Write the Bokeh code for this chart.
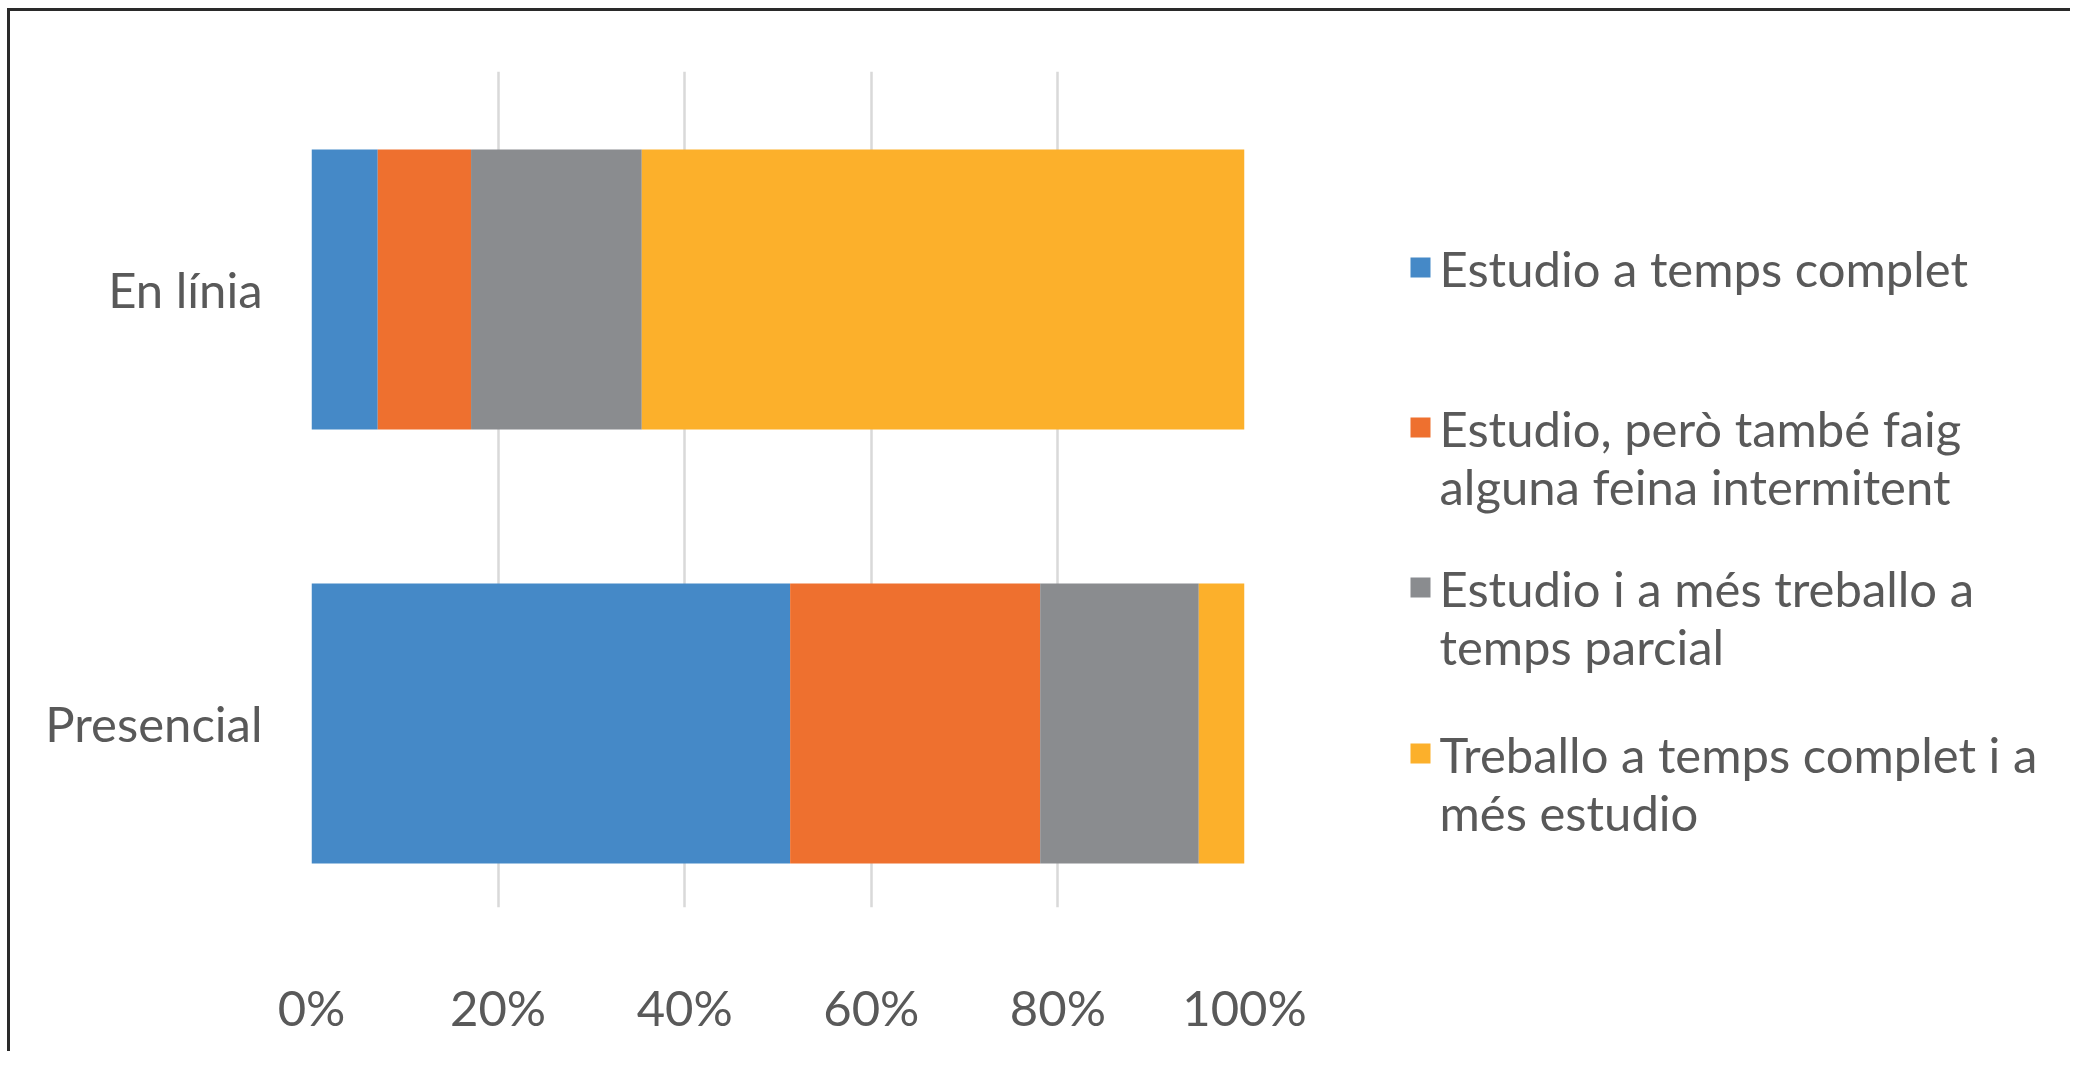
from bokeh.plotting import figure
from bokeh.layouts import row, column, Spacer
from bokeh.models import ColumnDataSource, FixedTicker, Range1d
from bokeh.embed import file_html
from bokeh.resources import INLINE
from bokeh.core.properties import value

# ---- data ----
categories = ["Presencial", "En línia"]
series_names = [
    "Estudio a temps complet",
    "Estudio, però també faig alguna feina intermitent",
    "Estudio i a més treballo a temps parcial",
    "Treballo a temps complet i a més estudio",
]
legend_lines = [
    ["Estudio a temps complet"],
    ["Estudio, però també faig", "alguna feina intermitent"],
    ["Estudio i a més treballo a", "temps parcial"],
    ["Treballo a temps complet i a", "més estudio"],
]
estudio_complet = [51.3, 7.1]
estudio_feina = [26.8, 10.0]
estudio_parcial = [17.0, 18.3]
treballo_complet = [4.9, 64.6]
x_ticks = [0, 20, 40, 60, 80, 100]
x_tick_labels = ["0%", "20%", "40%", "60%", "80%", "100%"]

colors = ["#4589C7", "#EE702F", "#8A8C8F", "#FCB02B"]
TEXT = "#595959"
FONT = "Lato"
FS = "49px"

stackers = ["s0", "s1", "s2", "s3"]
source = ColumnDataSource(dict(
    y=list(range(len(categories))),
    s0=estudio_complet, s1=estudio_feina, s2=estudio_parcial, s3=treballo_complet,
))

OX, OY = 18, 19          # content origin on the page
W1, W2, H = 1350, 710, 1040
BT, BB = 60, 144

p = figure(width=W1, height=H, output_backend="svg", toolbar_location=None,
           x_range=Range1d(0, 100), y_range=Range1d(-0.424, 1.502),
           min_border_left=301, min_border_right=116, min_border_top=BT,
           min_border_bottom=BB)
p.hbar_stack(stackers, y="y", height=0.645, fill_color=colors, line_color=None,
             source=source)

p.outline_line_color = None
p.background_fill_color = "white"
p.border_fill_color = "white"

p.xaxis.ticker = FixedTicker(ticks=x_ticks)
p.xaxis.major_label_overrides = {t: l for t, l in zip(x_ticks, x_tick_labels)}
p.yaxis.ticker = FixedTicker(ticks=list(range(len(categories))))
p.yaxis.major_label_overrides = {i: c for i, c in enumerate(categories)}
for ax in (p.xaxis, p.yaxis):
    ax.axis_line_color = None
    ax.major_tick_line_color = None
    ax.minor_tick_line_color = None
    ax.major_label_text_font = FONT
    ax.major_label_text_font_size = FS
    ax.major_label_text_color = TEXT
p.xaxis.major_label_standoff = 64
p.yaxis.major_label_standoff = 43

p.xgrid.ticker = FixedTicker(ticks=x_ticks)
p.xgrid.grid_line_color = "#d9d9d9"
p.xgrid.grid_line_width = 2.5
p.ygrid.grid_line_color = None

# ---- legend panel (coordinates in page pixels) ----
top_px, bot_px = OY + BT, OY + H - BB
leg = figure(width=W2, height=H, output_backend="svg", toolbar_location=None,
             x_range=Range1d(OX + W1, OX + W1 + W2), y_range=Range1d(bot_px, top_px),
             min_border_left=0, min_border_right=0, min_border_top=BT,
             min_border_bottom=BB, x_axis_location=None, y_axis_location=None)
leg.outline_line_color = None
leg.xgrid.visible = False
leg.ygrid.visible = False
leg.border_fill_color = "white"
leg.background_fill_color = "white"

first_line_y = [275, 435, 595, 761]
line_gap = 58
sq_x, txt_x = 1428, 1447
sq = dict(x=[], y=[], c=[])
tx = dict(x=[], y=[], t=[])
for i, lines in enumerate(legend_lines):
    sq["x"].append(sq_x)
    sq["y"].append(first_line_y[i])
    sq["c"].append(colors[i])
    for j, line in enumerate(lines):
        tx["x"].append(txt_x)
        tx["y"].append(first_line_y[i] + j * line_gap)
        tx["t"].append(line)
leg.rect(x="x", y="y", width=20, height=20, width_units="screen", height_units="screen",
         fill_color="c", line_color=None, source=ColumnDataSource(sq))
leg.text(x="x", y="y", text="t", text_font=value(FONT), text_font_size=FS,
         text_color=TEXT, text_baseline="middle", text_align="left",
         source=ColumnDataSource(tx))

framed = row(p, leg,
             styles={"border-top": "3px solid #2a2a2a", "border-left": "3px solid #2a2a2a"})
layout = column(Spacer(height=8), row(Spacer(width=7), framed))

open("out.html", "w").write(file_html(layout, INLINE))
